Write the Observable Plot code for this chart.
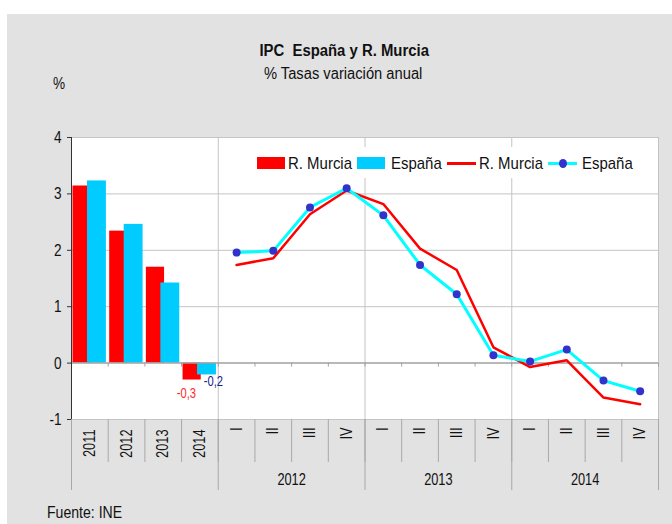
<!DOCTYPE html>
<html>
<head>
<meta charset="utf-8">
<script src="https://cdn.jsdelivr.net/npm/d3@7"></script>
<script src="https://cdn.jsdelivr.net/npm/@observablehq/plot@0.6"></script>
<style>
  html, body { margin: 0; padding: 0; background: #ffffff; }
  #wrap { position: relative; width: 672px; height: 524px; overflow: hidden;
    font-family: "Liberation Sans", Arial, sans-serif; color: #111; }
  #panel { position: absolute; left: 7px; top: 14px; width: 665px; height: 510px; background: #e2e2e2; }
  #chart { position: absolute; left: 0; top: 0; }
  .txt { position: absolute; white-space: nowrap; line-height: 1; }
  .sx { display: inline-block; transform-origin: center center; }
  .sl { display: inline-block; transform-origin: left center; }
  #title { left: 0; width: 688px; text-align: center; top: 43px; font-size: 16px; font-weight: bold; }
  #subtitle { left: 0; width: 686px; text-align: center; top: 66px; font-size: 16px; }
  #pct { left: 53px; top: 76px; font-size: 16px; }
  #source { left: 47px; top: 505px; font-size: 16px; }
  #legendbox { position: absolute; left: 250px; top: 147px; width: 398px; height: 31px; background: #fff; }
  .lg { position: absolute; }
  .lgt { position: absolute; top: 155px; font-size: 17px; line-height: 1; white-space: nowrap; }
  .dot { position: absolute; width: 8px; height: 9px; border-radius: 50%; background: #3333cc; }
</style>
</head>
<body>
<div id="wrap">
  <div id="panel"></div>
  <div id="chart"></div>
  <div class="txt" id="title"><span class="sx" style="transform:scaleX(0.93)">IPC&nbsp; España y R. Murcia</span></div>
  <div class="txt" id="subtitle"><span class="sx" style="transform:scaleX(0.92)">% Tasas variación anual</span></div>
  <div class="txt" id="pct"><span class="sl" style="transform:scaleX(0.85)">%</span></div>
  <div class="txt" id="source"><span class="sl" style="transform:scaleX(0.88)">Fuente: INE</span></div>
  <div id="legendbox"></div>
  <div class="lg" style="left:257px;top:157px;width:28px;height:12px;background:#ff0000"></div>
  <div class="lgt" style="left:288px"><span class="sl" style="transform:scaleX(0.88)">R. Murcia</span></div>
  <div class="lg" style="left:357px;top:157px;width:28px;height:12px;background:#00ccff"></div>
  <div class="lgt" style="left:391px"><span class="sl" style="transform:scaleX(0.88)">España</span></div>
  <div class="lg" style="left:447px;top:162px;width:29px;height:3px;background:#ff0000"></div>
  <div class="lgt" style="left:479px"><span class="sl" style="transform:scaleX(0.88)">R. Murcia</span></div>
  <div class="lg" style="left:548px;top:162px;width:29px;height:3px;background:#00ffff"></div>
  <div class="dot" style="left:559px;top:159px"></div>
  <div class="lgt" style="left:582px"><span class="sl" style="transform:scaleX(0.88)">España</span></div>
</div>
<script>
// ---- data ----
const years = ["2011", "2012", "2013", "2014"];
const murciaAnual = [3.14, 2.34, 1.70, -0.30];
const espanaAnual = [3.23, 2.46, 1.42, -0.21];
const labeledYears = ["2014"];

const quarterYears = ["2012", "2013", "2014"];
const quarterNames = ["I", "II", "III", "IV"];
const murciaTrim = [1.74, 1.86, 2.64, 3.06, 2.82, 2.03, 1.65, 0.28, -0.07, 0.05, -0.61, -0.73];
const espanaTrim = [1.96, 1.99, 2.76, 3.10, 2.62, 1.74, 1.22, 0.14, 0.03, 0.24, -0.31, -0.50];

const yTicks = [-1, 0, 1, 2, 3, 4];

// ---- derived tables ----
const cats = [
  ...years.map(y => ({label: y, kind: "year", group: null})),
  ...quarterYears.flatMap(y => quarterNames.map(q => ({label: q, kind: "q", group: y})))
].map((d, i) => ({...d, i}));
const n = cats.length;

const barsM = years.map((y, i) => ({i, v: murciaAnual[i], y}));
const barsE = years.map((y, i) => ({i, v: espanaAnual[i], y}));
const trimM = murciaTrim.map((v, k) => ({i: years.length + k, v}));
const trimE = espanaTrim.map((v, k) => ({i: years.length + k, v}));

const groupBounds = [0, years.length, ...quarterYears.map((g, k) => years.length + (k + 1) * quarterNames.length)];
const groups = quarterYears.map(g => {
  const idx = cats.filter(c => c.group === g).map(c => c.i);
  return {g, x: (d3.min(idx) + d3.max(idx) + 1) / 2};
});
const boundaries = d3.range(0, n + 1);
const fmt = v => v.toFixed(1).replace(".", ",");

const FONT = '"Liberation Sans", Arial, sans-serif';

const chart = Plot.plot({
  width: 672,
  height: 524,
  marginLeft: 71,
  marginRight: 14,
  marginTop: 137,
  marginBottom: 105,
  x: {domain: [0, n], axis: null},
  y: {domain: [-1, 4]},
  style: {background: "transparent", fontFamily: FONT, fontSize: "16px", color: "#111"},
  marks: [
    Plot.frame({fill: "#ffffff", stroke: "#c4c4c4"}),
    Plot.ruleY([1, 2, 3], {stroke: "#c4c4c4"}),
    Plot.ruleX(groupBounds.slice(1, -1), {stroke: "#c4c4c4"}),
    // separators below the frame
    Plot.ruleX(boundaries, {y1: -1, y2: -1, insetBottom: -43, stroke: "#a8a8a8"}),
    Plot.ruleX(groupBounds, {y1: -1, y2: -1, insetBottom: -71, stroke: "#a8a8a8"}),
    // bars
    Plot.rectY(barsM, {x1: d => d.i, x2: d => d.i + 1, y: "v", fill: "#ff0000", insetLeft: 1.5, insetRight: 17}),
    Plot.rectY(barsE, {x1: d => d.i, x2: d => d.i + 1, y: "v", fill: "#00ccff", insetLeft: 16, insetRight: 1.8}),
    // zero line and its ticks
    Plot.ruleY([0], {stroke: "#a0a0a0", strokeWidth: 1.5}),
    Plot.ruleX(boundaries, {y1: 0, y2: 0, insetBottom: -4, stroke: "#a0a0a0"}),
    // y axis
    Plot.ruleX([0], {stroke: "#333"}),
    Plot.axisY({ticks: yTicks, tickFormat: d => String(d), tickSize: 4, tickPadding: 6, fontSize: 17, stroke: "#333", label: null}),
    // bar labels
    Plot.text(barsM.filter(d => labeledYears.includes(d.y)), {x: d => d.i + 0.5, y: "v", text: d => fmt(d.v),
      dx: -13.5, dy: 8, lineAnchor: "top", fill: "#ff2a2a", fontSize: 14, ariaLabel: "bar-labels"}),
    Plot.text(barsE.filter(d => labeledYears.includes(d.y)), {x: d => d.i + 0.5, y: "v", text: d => fmt(d.v),
      dx: 13.5, dy: 1, lineAnchor: "top", fill: "#1c1c8c", fontSize: 14, ariaLabel: "bar-labels"}),
    // quarterly lines
    Plot.line(trimM, {x: d => d.i + 0.5, y: "v", stroke: "#ff0000", strokeWidth: 2.5}),
    Plot.line(trimE, {x: d => d.i + 0.5, y: "v", stroke: "#00ffff", strokeWidth: 3}),
    Plot.dot(trimE, {x: d => d.i + 0.5, y: "v", r: 4, fill: "#3333cc", stroke: null}),
    // x category labels
    Plot.text(cats.filter(c => c.kind === "year"), {x: d => d.i + 0.5, frameAnchor: "bottom", text: "label",
      rotate: -90, textAnchor: "end", lineAnchor: "middle", dy: 10, fontSize: 16, ariaLabel: "year-labels"}),
    Plot.text(cats.filter(c => c.kind === "q"), {x: d => d.i + 0.5, frameAnchor: "bottom", text: "label",
      rotate: -90, textAnchor: "end", lineAnchor: "middle", dy: 8, fontSize: 16, ariaLabel: "quarter-labels"}),
    Plot.text(groups, {x: "x", frameAnchor: "bottom", text: "g", dy: 60, lineAnchor: "middle", fontSize: 16})
  ]
});

const svg = d3.select(chart);
svg.selectAll('g[aria-label="year-labels"] text').attr("letter-spacing", "3");
svg.selectAll('g[aria-label="quarter-labels"] text').attr("letter-spacing", "2");
svg.selectAll("text").each(function () {
  const inBar = this.closest('g[aria-label="bar-labels"]');
  const s = inBar ? 0.88 : 0.8;
  const t = this.getAttribute("transform") || "";
  this.setAttribute("transform", (t + ` scale(${s},1)`).trim());
});
document.getElementById("chart").appendChild(chart);
</script>
</body>
</html>
